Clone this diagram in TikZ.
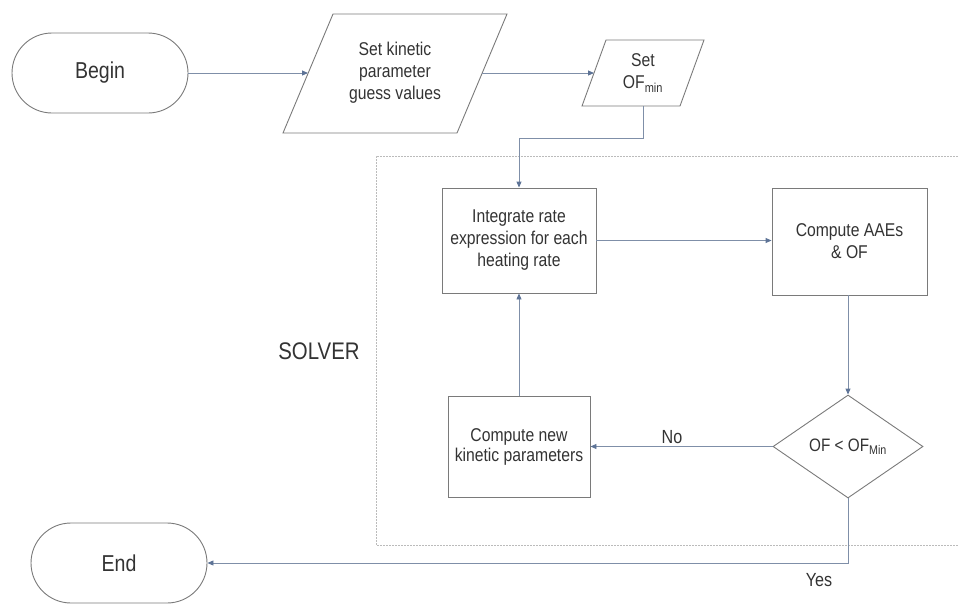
\documentclass[tikz,border=0pt]{standalone}
\usepackage{fontspec}
\setmainfont{Liberation Sans}
\newfontfamily\narrowfont[FakeStretch=0.85]{Liberation Sans}
\usetikzlibrary{arrows.meta,shapes.geometric}
\definecolor{shapeline}{HTML}{7A7A7A}
\definecolor{conn}{HTML}{7F8FA8}
\definecolor{tipcol}{HTML}{5D7396}
\definecolor{dashcol}{HTML}{BBBBBB}
\definecolor{txt}{HTML}{333333}
\tikzset{
  every node/.style={text=txt},
  term/.style={draw=shapeline, line width=0.9pt, rectangle, rounded corners=40pt,
    minimum width=176pt, minimum height=80pt, font=\narrowfont\fontsize{23}{26}\selectfont},
  procbox/.style={draw=shapeline, line width=0.9pt, rectangle, align=center,
    font=\narrowfont\fontsize{18.5}{22}\selectfont, inner sep=0pt},
  paratext/.style={align=center, font=\narrowfont\fontsize{18.5}{22}\selectfont, inner sep=0pt},
  decide/.style={draw=shapeline, line width=0.9pt, diamond, aspect=1.45,
    minimum width=150pt, minimum height=103pt, inner sep=0pt,
    font=\narrowfont\fontsize{18}{20}\selectfont},
  paraline/.style={draw=shapeline, line width=0.9pt},
  conline/.style={draw=conn, line width=0.9pt, -{Triangle[length=6pt,width=5pt,fill=tipcol,color=tipcol]}},
  lbl/.style={font=\narrowfont\fontsize{19}{22}\selectfont, inner sep=0pt},
  solverbox/.style={draw=dashcol, line width=0.9pt, dash pattern=on 2pt off 1pt}
}
\begin{document}
\begin{tikzpicture}[x=1pt,y=-1pt]
\useasboundingbox (0,0) rectangle (958,603);
% solver region
\draw[solverbox] (958,156) -- (376,156) -- (376,545) -- (958,545);
\node[font=\narrowfont\fontsize{24}{28}\selectfont, inner sep=0pt] (solver) at (319,351) {SOLVER};
% terminals
\node[term] (begin) at (100,73) {Begin};
\node[term] (end) at (119,563) {End};
% parallelogram 1
\coordinate (p1bl) at (283,133);
\coordinate (p1tl) at (333,14);
\coordinate (p1tr) at (507,14);
\coordinate (p1br) at (457,133);
\draw[paraline] (p1bl) -- (p1tl) -- (p1tr) -- (p1br) -- cycle;
\node[paratext] (p1) at (395,73) {Set kinetic\\parameter\\guess values};
\coordinate (p1w) at (308,73);
\coordinate (p1e) at (482,73);
% parallelogram 2
\coordinate (p2bl) at (582,106);
\coordinate (p2tl) at (606,40);
\coordinate (p2tr) at (704,40);
\coordinate (p2br) at (680,106);
\draw[paraline] (p2bl) -- (p2tl) -- (p2tr) -- (p2br) -- cycle;
\node[paratext] (p2) at (643,73) {Set\\OF\textsubscript{min}};
\coordinate (p2w) at (594,73);
\coordinate (p2s) at (643,106);
% process boxes
\node[procbox, minimum width=154pt, minimum height=105pt] (integ) at (519,240.5)
  {Integrate rate\\expression for each\\heating rate};
\node[procbox, minimum width=155pt, minimum height=107pt] (aae) at (849.5,241.5)
  {Compute AAEs\\\& OF};
\node[procbox, minimum width=142pt, minimum height=101pt,
  font=\narrowfont\fontsize{18.5}{20}\selectfont] (newk) at (519,446.5)
  {Compute new\\kinetic parameters};
\node[decide] (dec) at (848,446.5) {OF < OF\textsubscript{Min}};
% connectors
\draw[conline] (begin.east) -- (p1w);
\draw[conline] (p1e) -- (p2w);
\coordinate (k1) at (643,138);
\coordinate (k2) at (519,138);
\draw[conline] (p2s) -- (k1) -- (k2) -- (integ.north);
\draw[conline] (integ.east) -- (aae.west |- integ.east);
\draw[conline] (aae.south -| dec.north) -- (dec.north);
\draw[conline] (dec.west) -- (newk.east);
\draw[conline] (newk.north) -- (integ.south);
\coordinate (k3) at (848,563);
\draw[conline] (dec.south) -- (k3) -- (end.east);
% labels
\node[lbl] (no) at (672,437) {No};
\node[lbl] (yes) at (819,580) {Yes};
\end{tikzpicture}
\end{document}
